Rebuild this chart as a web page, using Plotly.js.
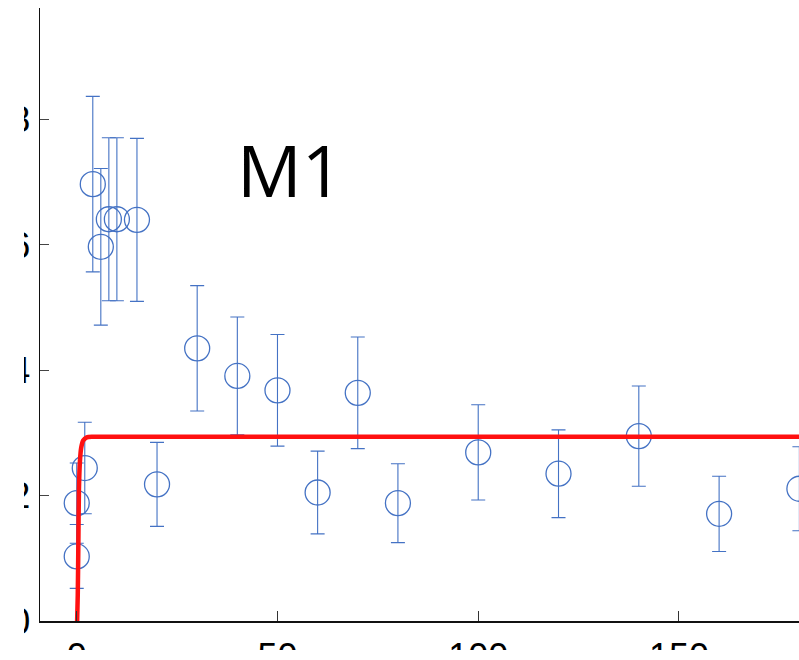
<!DOCTYPE html>
<html>
<head>
<meta charset="utf-8">
<script src="https://cdn.plot.ly/plotly-3.0.1.min.js"></script>
<style>
  html, body { margin: 0; padding: 0; background: #fff; overflow: hidden; }
  #wrap { position: relative; width: 799px; height: 660px; }
  #chart { position: absolute; left: 0; top: 0; width: 799px; height: 660px; }
  .gutter { position: absolute; background: #fff; }
  #gutter-left { left: 0; top: 0; width: 24px; height: 660px; }
  #gutter-bottom { left: 0; top: 650px; width: 799px; height: 10px; }
</style>
</head>
<body>
<div id="wrap">
  <div id="chart"></div>
  <div class="gutter" id="gutter-left"></div>
  <div class="gutter" id="gutter-bottom"></div>
</div>
<script>
// Measured concentrations (mean ± SD) over time
const times  = [0, 0, 2, 4, 6, 8, 10, 15, 20, 30, 40, 50, 60, 70, 80, 100, 120, 140, 160, 180];
const values = [1.03, 1.88, 2.44, 6.97, 5.97, 6.41, 6.41, 6.40, 2.18, 4.35, 3.91, 3.68, 2.05, 3.64, 1.88, 2.69, 2.35, 2.95, 1.71, 2.11];
const errors = [0.51, 0.64, 0.73, 1.40, 1.25, 1.30, 1.30, 1.30, 0.67, 1.00, 0.94, 0.89, 0.66, 0.89, 0.63, 0.76, 0.70, 0.80, 0.60, 0.67];

// Model M1 curve
const fitTimes  = [0.1, 0.25, 0.4, 0.55, 0.8, 1.1, 1.6, 2.5, 4, 200];
const fitValues = [0, 0.4, 1.2, 2.1, 2.55, 2.76, 2.88, 2.93, 2.94, 2.94];

// Axis ticks
const xTicks = [0, 50, 100, 150];
const yTicks = [0, 2, 4, 6, 8];

const blue = '#4472C4';
const red = '#FF1010';

const data = [
  {
    x: times, y: values, type: 'scatter', mode: 'markers',
    marker: { symbol: 'circle-open', size: 25, color: blue, line: { width: 1.3, color: blue } },
    error_y: { type: 'data', array: errors, visible: true, color: blue, thickness: 1.1, width: 7 },
    cliponaxis: true, showlegend: false, hoverinfo: 'skip'
  },
  {
    x: fitTimes, y: fitValues, type: 'scatter', mode: 'lines',
    line: { color: red, width: 4.5, shape: 'spline', smoothing: 0.6 },
    showlegend: false, hoverinfo: 'skip'
  }
];

const tickFont = { family: 'Liberation Sans, Arial, sans-serif', size: 36, color: '#000' };

const layout = {
  width: 799, height: 660,
  margin: { l: 40, r: 0, t: 8, b: 39, pad: 0 },
  paper_bgcolor: '#fff', plot_bgcolor: '#fff',
  xaxis: {
    range: [-9.15, 179.9], tickvals: xTicks, ticktext: xTicks.map(String),
    ticks: 'inside', ticklen: 10, tickwidth: 1, tickcolor: '#333',
    showline: true, linecolor: '#111', linewidth: 1.5,
    showgrid: false, zeroline: false, tickfont: tickFont, ticklabelstandoff: 3
  },
  yaxis: {
    range: [0, 9.78], tickvals: yTicks, ticktext: yTicks.map(String),
    ticks: 'inside', ticklen: 9, tickwidth: 1, tickcolor: '#444',
    showline: true, linecolor: '#111', linewidth: 1.5,
    showgrid: false, zeroline: false, tickfont: tickFont, ticklabelstandoff: 1
  },
  annotations: [{
    text: 'M1', xref: 'paper', yref: 'paper', x: 0.33, y: 0.737,
    xanchor: 'center', yanchor: 'middle', showarrow: false,
    font: { family: 'Open Sans, sans-serif', size: 72, weight: 400, color: '#000' }
  }]
};

Plotly.newPlot('chart', data, layout, { staticPlot: true, displayModeBar: false });
</script>
</body>
</html>
